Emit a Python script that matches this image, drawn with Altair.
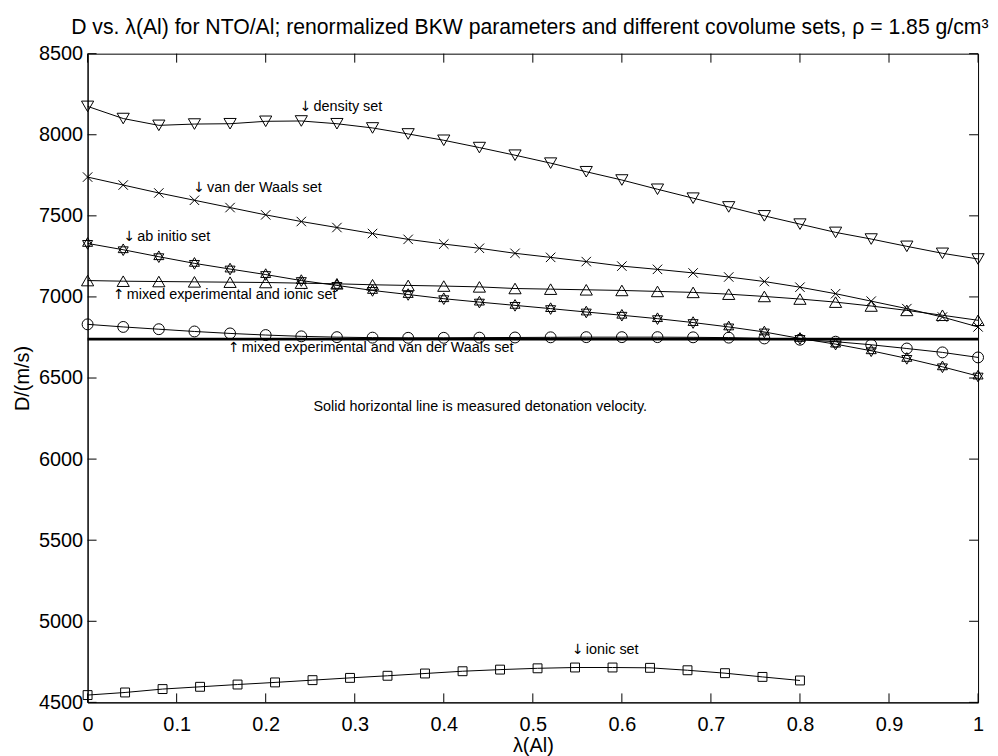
import altair as alt
import pandas as pd

# ---------------- data ----------------
lam = [0.00, 0.04, 0.08, 0.12, 0.16, 0.20, 0.24, 0.28, 0.32, 0.36, 0.40, 0.44, 0.48,
       0.52, 0.56, 0.60, 0.64, 0.68, 0.72, 0.76, 0.80, 0.84, 0.88, 0.92, 0.96, 1.00]

density_set = [8175, 8100, 8058, 8066, 8068, 8083, 8085, 8068, 8042, 8005, 7966, 7921, 7874,
               7825, 7772, 7721, 7664, 7609, 7555, 7500, 7449, 7398, 7357, 7312, 7269, 7234]
vdw_set = [7739, 7690, 7641, 7596, 7551, 7506, 7465, 7428, 7391, 7355, 7326, 7300, 7269,
           7244, 7218, 7190, 7170, 7148, 7123, 7095, 7060, 7020, 6974, 6928, 6876, 6815]
ab_initio_set = [7330, 7291, 7248, 7207, 7172, 7138, 7101, 7071, 7040, 7015, 6989, 6968, 6948,
                 6928, 6907, 6887, 6866, 6842, 6815, 6784, 6744, 6709, 6668, 6621, 6569, 6512]
mixed_ionic_set = [7101, 7097, 7095, 7093, 7091, 7089, 7085, 7081, 7075, 7071, 7067, 7062, 7052,
                   7048, 7044, 7040, 7034, 7028, 7017, 7003, 6987, 6968, 6944, 6917, 6887, 6856]
mixed_vdw_set = [6831, 6815, 6801, 6787, 6775, 6765, 6757, 6752, 6749, 6748, 6748, 6749, 6750,
                 6751, 6752, 6752, 6752, 6751, 6749, 6744, 6736, 6724, 6705, 6682, 6658, 6627]

ionic_lam = [0.0000, 0.0421, 0.0842, 0.1263, 0.1684, 0.2105, 0.2526, 0.2947, 0.3368, 0.3789,
             0.4211, 0.4632, 0.5053, 0.5474, 0.5895, 0.6316, 0.6737, 0.7158, 0.7579, 0.8000]
ionic_set = [4545, 4561, 4582, 4596, 4610, 4623, 4637, 4651, 4664, 4678,
             4692, 4702, 4710, 4715, 4715, 4713, 4698, 4680, 4657, 4635]

measured_D = [6740]

x_ticks = [0, 0.1, 0.2, 0.3, 0.4, 0.5, 0.6, 0.7, 0.8, 0.9, 1]
y_ticks = [4500, 5000, 5500, 6000, 6500, 7000, 7500, 8000, 8500]

# arrow labels: arrow glyph, label text, arrow position (data units)
arrow_glyph = ["\u2193", "\u2193", "\u2193", "\u2191", "\u2191", "\u2193"]
arrow_text = ["density set", "van der Waals set", "ab initio set",
              "mixed experimental and ionic set",
              "mixed experimental and van der Waals set", "ionic set"]
arrow_x = [0.2447, 0.1251, 0.0469, 0.0350, 0.1642, 0.5505]
arrow_y = [8169, 7674, 7371, 7009, 6682, 4821]

plain_text = ["Solid horizontal line is measured detonation velocity."]
plain_x = [0.2536]
plain_y = [6322]

title_text = "D vs. \u03bb(Al) for NTO/Al; renormalized BKW parameters and different covolume sets, \u03c1 = 1.85 g/cm\u00b3"

# ---------------- tables ----------------
series_names = ["density", "vdw", "abinitio", "mixed_ionic", "mixed_vdw", "ionic"]
series_vals = [density_set, vdw_set, ab_initio_set, mixed_ionic_set, mixed_vdw_set, ionic_set]
series_x = [lam, lam, lam, lam, lam, ionic_lam]
rows = []
for name, xs, ys in zip(series_names, series_x, series_vals):
    for xv, yv in zip(xs, ys):
        rows.append({"series": name, "lam": xv, "D": yv})
df = pd.DataFrame(rows)

arrows = pd.DataFrame({"glyph": arrow_glyph, "text": arrow_text, "lam": arrow_x, "D": arrow_y})
plain = pd.DataFrame({"text": plain_text, "lam": plain_x, "D": plain_y})
xt = pd.DataFrame({"lam": x_ticks})
yt = pd.DataFrame({"D": y_ticks})
meas = pd.DataFrame({"D": measured_D})

# ---------------- styling ----------------
W, H = 895, 652
FONT = "Liberation Sans"
TL = 9  # inward tick length

X_PATH = "M-1,-1L1,1M-1,1L1,-1"
HEX_PATH = "M0,-1L0.866,0.5L-0.866,0.5Z M0,1L0.866,-0.5L-0.866,-0.5Z"
marker = {
    "density": ("triangle-down", 150),
    "vdw": (X_PATH, 90),
    "abinitio": (HEX_PATH, 135),
    "mixed_ionic": ("triangle-up", 150),
    "mixed_vdw": ("circle", 120),
    "ionic": ("square", 80),
}

xscale = alt.Scale(domain=[0, 1], nice=False, zero=False)
yscale = alt.Scale(domain=[4500, 8500], nice=False, zero=False)

x_axis = alt.Axis(title="\u03bb(Al)", values=x_ticks, format="~g", ticks=False,
                  labelPadding=12, titlePadding=1, labelFlush=False, grid=False)
y_axis = alt.Axis(title="D/(m/s)", values=y_ticks, format="d", ticks=False,
                  labelPadding=5, titlePadding=6, labelFlush=False, grid=False)

X = alt.X("lam:Q", scale=xscale, axis=x_axis)
Y = alt.Y("D:Q", scale=yscale, axis=y_axis)

layers = []
layers.append(
    alt.Chart(df).mark_line(color="black", strokeWidth=1).encode(
        x=X, y=Y, detail="series:N", order="lam:Q")
)
for name in series_names:
    shp, sz = marker[name]
    layers.append(
        alt.Chart(df).transform_filter(alt.datum.series == name)
        .mark_point(shape=shp, size=sz, filled=False, color="black",
                    strokeWidth=1, opacity=1)
        .encode(x=X, y=Y)
    )
layers.append(
    alt.Chart(meas).mark_rule(color="black", strokeWidth=2.6).encode(y=Y)
)
layers.append(
    alt.Chart(arrows).mark_text(align="center", baseline="middle", font="DejaVu Sans",
                                fontSize=14, color="black")
    .encode(x=X, y=Y, text="glyph:N")
)
layers.append(
    alt.Chart(arrows).mark_text(align="left", baseline="middle", font=FONT,
                                fontSize=14.5, color="black", dx=8)
    .encode(x=X, y=Y, text="text:N")
)
layers.append(
    alt.Chart(plain).mark_text(align="left", baseline="middle", font=FONT,
                               fontSize=14.5, color="black")
    .encode(x=X, y=Y, text="text:N")
)
# inward ticks on all four sides
layers.append(alt.Chart(xt).mark_rule(color="black", strokeWidth=1).encode(
    x=X, y=alt.value(H), y2=alt.value(H - TL)))
layers.append(alt.Chart(xt).mark_rule(color="black", strokeWidth=1).encode(
    x=X, y=alt.value(0), y2=alt.value(TL)))
layers.append(alt.Chart(yt).mark_rule(color="black", strokeWidth=1).encode(
    y=Y, x=alt.value(0), x2=alt.value(TL)))
layers.append(alt.Chart(yt).mark_rule(color="black", strokeWidth=1).encode(
    y=Y, x=alt.value(W), x2=alt.value(W - TL)))

chart = (
    alt.layer(*layers)
    .properties(
        width=W, height=H,
        autosize=alt.AutoSizeParams(type="none"),
        padding={"left": 80, "top": 44, "right": 12, "bottom": 52},
        title=alt.TitleParams(text=title_text, font=FONT, fontSize=21.3,
                              fontWeight="normal", anchor="middle", offset=5, dx=-3,
                              color="black"),
        background="white",
    )
    .configure_view(stroke="black", strokeWidth=1)
    .configure_axis(labelFont=FONT, titleFont=FONT, labelFontSize=20, titleFontSize=20,
                    titleFontWeight="normal", labelColor="black", titleColor="black",
                    domainColor="black", domainWidth=1)
)

chart.save("out.html", embed_options={"renderer": "svg", "actions": False})
